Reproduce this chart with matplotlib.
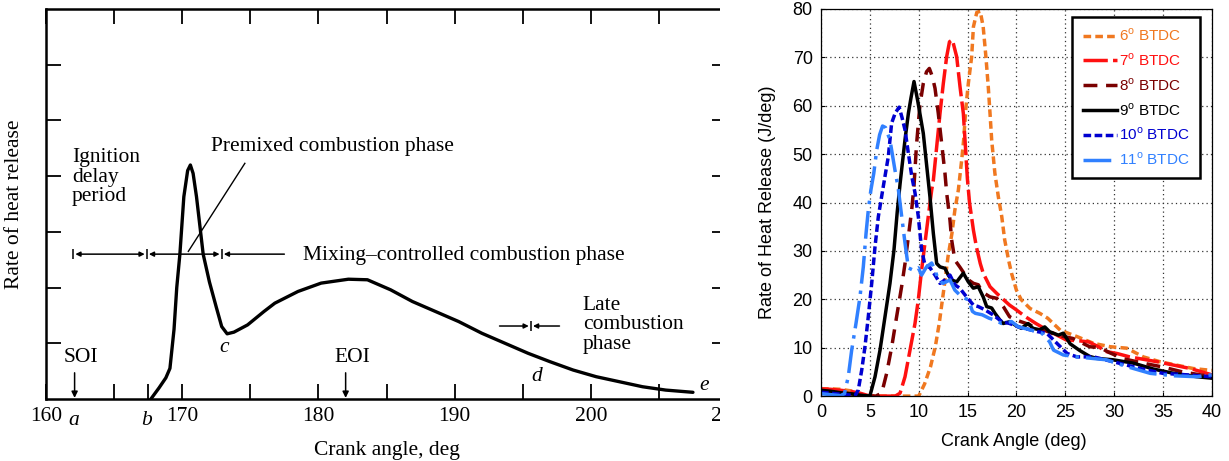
import matplotlib.pyplot as plt
from matplotlib.patches import Rectangle
from matplotlib.ticker import FixedLocator, FuncFormatter

plt.rcParams['font.family'] = 'Liberation Sans'
plt.rcParams['mathtext.fontset'] = 'custom'
plt.rcParams['mathtext.rm'] = 'Liberation Sans'

# ---- left panel: textbook heat release sketch (arbitrary units) ----
hr_angle = [167.7, 168.3, 168.8, 169.1, 169.4, 169.6, 169.83, 170.12, 170.4, 170.6,
            170.8, 171.05, 171.54, 172.0, 172.5, 172.9, 173.3, 173.8, 174.8, 176.0,
            176.8, 178.5, 180.2, 182.2, 183.6, 185.3, 186.9, 188.6, 190.3, 192.0,
            193.7, 195.4, 197.0, 198.7, 200.4, 202.1, 203.8, 205.5, 207.5]
hr_rate = [0.0, 0.2, 0.38, 0.55, 1.25, 2.0, 2.6, 3.63, 4.1, 4.2,
           4.05, 3.63, 2.6, 2.1, 1.65, 1.3, 1.17, 1.2, 1.33, 1.57,
           1.72, 1.93, 2.08, 2.15, 2.14, 1.96, 1.75, 1.57, 1.39, 1.18,
           1.0, 0.82, 0.67, 0.52, 0.40, 0.31, 0.22, 0.16, 0.12]

# phase boundaries (a, b, c), d and injection events
phase_marks = [162.0, 167.4, 172.9]
mix_end = 177.5
late_mark = 195.6
soi_angle = 162.1
eoi_angle = 182.0

# ---- right panel: measured rate of heat release ----
ca_6 = [0, 1, 2, 3, 3.5, 4, 5, 6, 7, 8, 9, 10, 10.6, 11.2, 11.7, 12.1, 12.7, 13.0, 13.4, 13.7,
        14.06, 14.4, 14.6, 14.84, 15.08, 15.42, 15.6, 15.95, 16.3, 16.6, 16.88, 17.12, 17.3, 17.47,
        17.8, 18.15, 18.5, 18.8, 19.2, 19.5, 20.0, 20.5, 21.4, 22.4, 23.2, 24.5, 26.2, 27.9, 29.6,
        31.3, 33.0, 34.7, 36.4, 38.1, 40]
hr_6 = [1.5, 1.5, 1.4, 1.1, 0.8, 0.4, 0, 0, 0, 0, 0, 0, 2.5, 6.0, 10.2, 15.0, 24.0, 28.8, 33.6, 38.4,
        42.6, 48.8, 52.9, 59.8, 64.6, 70.1, 76.3, 79.3, 79.5, 76.3, 70.1, 63.9, 58.4, 52.9,
        46.0, 41.2, 37.1, 32.3, 28.1, 25.4, 21.9, 19.9, 18.1, 17.1, 16.1, 13.6, 12.3, 10.9, 10.2,
        9.9, 8.1, 7.1, 6.4, 5.7, 5.3]

ca_7 = [0, 1, 2, 3, 4, 4.5, 5, 6, 7, 7.6, 8.09, 8.6, 9.11, 9.62, 9.96, 10.3, 10.64, 10.98, 11.33, 11.5,
        11.84, 12.18, 12.52, 12.86, 13.15, 13.45, 13.89, 14.23, 14.57, 14.74, 14.98, 15.2, 15.6, 15.9,
        16.3, 16.6, 17.3, 18.0, 18.7, 19.3, 19.8, 21.0, 22.0, 23.1, 25.1, 26.5, 27.4, 28.4, 29.2, 30.3,
        31.6, 34.4, 36.1, 37.8, 40]
hr_7 = [1.5, 1.4, 1.2, 1.0, 0.6, 0.3, 0, 0, 0, 0, 0.6, 4.0, 9.5, 15.0, 19.9, 26.1, 31.6, 37.1, 42.6, 44.6,
        51.5, 58.4, 64.6, 70.1, 73.2, 73.6, 70.1, 63.9, 58.4, 52.9, 45.0, 40.0, 34.3, 30.9,
        27.4, 25.4, 22.6, 21.2, 19.9, 18.8, 18.1, 16.3, 15.0, 13.7, 11.6, 11.4, 11.2, 10.2, 9.2, 8.8,
        8.1, 7.1, 6.4, 5.7, 4.4]

ca_8 = [0, 1, 2, 3, 4, 5, 5.6, 6.21, 6.72, 7.24, 7.74, 8.25, 8.6, 8.94, 9.28, 9.52, 9.78, 10.12, 10.47, 10.8,
        11.09, 11.4, 11.67, 12.0, 12.35, 12.69, 12.86, 13.2, 13.37, 13.7, 14.2, 14.6, 15.1, 15.6, 16.1,
        16.5, 17.3, 18.0, 18.66, 19.3, 20.0, 21.0, 22.0, 23.0, 24.0, 25.8, 27.5, 28.6, 29.5, 31.0,
        33.0, 35.0, 37.0, 40]
hr_8 = [1.0, 0.9, 0.7, 0.5, 0.2, 0, 0, 0.6, 4.7, 10.2, 16.4, 22.6, 27.4, 32.9, 38.4, 43.5, 52.0, 60.0, 64.6, 67.0,
        67.7, 66.0, 63.6, 58.5, 52.2, 46.0, 42.0, 36.4, 32.3, 28.1, 26.7, 25.5, 24.0, 23.3, 23.0,
        21.5, 20.5, 20.2, 18.5, 16.4, 15.7, 15.0, 14.2, 13.5, 12.7, 11.9, 10.2, 10.0, 9.0, 7.7,
        6.8, 6.0, 5.0, 4.0]

ca_9 = [0, 1, 2, 3, 4, 5.0, 5.53, 6.04, 6.55, 7.06, 7.47, 7.8, 8.1, 8.6, 8.95, 9.2, 9.52, 9.9, 10.47, 11.15,
        11.5, 11.84, 12.18, 12.69, 13.03, 13.37, 13.89, 14.57, 15.08, 15.59, 16.1, 16.6, 16.96, 17.47,
        17.81, 18.32, 18.66, 19.34, 19.85, 20.5, 21.2, 21.7, 22.4, 22.9, 23.4, 24.3, 24.8, 25.5, 26.5,
        27.5, 28.2, 29.9, 32.0, 34.0, 36.1, 38.5, 40]
hr_9 = [1.2, 1.0, 0.7, 0.5, 0.2, 0, 4.0, 9.5, 16.4, 23.3, 30.2, 38.0, 44.0, 53.0, 58.5, 61.5, 65.0, 61.0, 54.3, 41.2,
        33.6, 27.4, 26.7, 26.4, 25.0, 24.0, 23.6, 25.4, 23.6, 22.3, 22.6, 20.5, 18.5, 18.2,
        17.1, 15.7, 15.0, 15.4, 14.7, 14.0, 15.0, 14.0, 13.7, 14.3, 13.3, 12.6, 13.0, 10.8, 9.4,
        8.2, 7.8, 7.5, 6.8, 5.6, 4.7, 4.0, 3.7]

ca_10 = [0, 1, 2, 3, 3.5, 3.82, 4.17, 4.5, 4.84, 5.19, 5.53, 5.87, 6.35, 6.89, 7.23, 7.6, 8.0, 8.3, 8.6, 8.94,
         9.3, 9.62, 9.96, 10.3, 10.64, 11.16, 11.67, 12.18, 12.69, 13.2, 13.7, 14.2, 14.9, 15.6, 16.1,
         16.8, 17.6, 18.5, 19.3, 20.2, 21.4, 22.2, 23.1, 23.8, 25.2, 26.2, 27.9, 29.9, 32.7, 35.0, 37.4, 40]
hr_10 = [0.8, 0.6, 0.4, 0.2, 0.1, 1.3, 5.4, 10.2, 16.4, 23.3, 30.9, 37.1, 43.0, 49.5, 56.4, 58.5, 59.7, 57.5, 55.0, 50.2,
         45.3, 42.0, 37.1, 30.2, 27.1, 26.5, 25.0, 23.3, 24.0, 25.0, 23.0, 22.3, 20.5, 18.8, 18.5,
         17.8, 16.8, 15.4, 15.0, 14.3, 13.7, 13.3, 13.0, 11.6, 8.8, 8.1, 8.1, 7.1, 5.7, 4.7, 4.4, 4.0]

ca_11 = [0, 1, 2, 2.4, 2.79, 3.14, 3.58, 3.99, 4.33, 4.61, 4.84, 5.1, 5.4, 5.7, 6.0, 6.3, 6.6, 7.06, 7.57, 7.9,
         8.26, 8.6, 8.94, 9.45, 9.96, 10.3, 10.8, 11.33, 11.67, 12.0, 12.5, 13.2, 13.7, 14.2, 14.74,
         15.1, 15.5, 15.8, 16.5, 17.2, 17.8, 18.5, 19.5, 20.2, 21.4, 22.6, 23.4, 23.8, 24.8, 26.2,
         29.2, 31.3, 33.7, 36.1, 38.5, 40]
hr_11 = [0.5, 0.3, 0.1, 0.5, 4.0, 9.5, 15.0, 20.5, 26.7, 33.6, 38.4, 42.5, 46.0, 50.8, 54.0, 55.8, 55.5, 52.9, 46.7, 43.0,
         37.1, 31.6, 26.5, 26.0, 26.5, 25.0, 26.7, 27.5, 26.0, 24.0, 23.3, 24.0, 21.9, 20.9, 20.2,
         19.9, 17.5, 17.1, 16.8, 16.1, 15.7, 15.0, 15.4, 14.3, 13.7, 13.0, 11.2, 9.5, 8.5, 8.1,
         7.5, 6.1, 4.7, 4.2, 4.0, 4.4]

timing_labels = ['6$^{\\mathrm{o}}$ BTDC', '7$^{\\mathrm{o}}$ BTDC', '8$^{\\mathrm{o}}$ BTDC',
                 '9$^{\\mathrm{o}}$ BTDC', '10$^{\\mathrm{o}}$ BTDC', '11$^{\\mathrm{o}}$ BTDC']

fig = plt.figure(figsize=(12.29, 4.61), dpi=100)

# ================= left panel =================
serif = 'Liberation Serif'
fs = 15.5
ax = fig.add_axes([46 / 1229, 1 - 399 / 461, 681 / 1229, 390 / 461])
ax.plot(hr_angle, hr_rate, color='k', lw=2.4, solid_capstyle='round')
ax.set_xlim(160, 210)
ax.set_ylim(0, 7)
ax.xaxis.set_major_locator(FixedLocator(list(range(160, 211, 5))))
ax.xaxis.set_major_formatter(FuncFormatter(lambda v, p: '%d' % v if v % 10 == 0 else ''))
ax.set_yticks([1, 2, 3, 4, 5, 6])
ax.set_yticklabels([])
ax.tick_params(direction='in', length=11, width=1.3, top=True, right=True,
               labelsize=fs, labelfontfamily=serif, pad=6)
for s in ax.spines.values():
    s.set_linewidth(1.8)
ax.set_xlabel('Crank angle, deg', family=serif, fontsize=fs)
ax.xaxis.set_label_coords(0.5, -0.108)
ax.set_ylabel('Rate of heat release', family=serif, fontsize=fs)
ax.yaxis.set_label_coords(-0.033, 0.5)

# extra tick at b and italic point letters
ax.vlines(phase_marks[1] + 0.1, 0, 0.27, color='k', lw=1.3)
xt = ax.get_xaxis_transform()
ax.text(phase_marks[0], -0.032, 'a', transform=xt, family=serif, style='italic',
        fontsize=fs, ha='center', va='top')
ax.text(phase_marks[1], -0.032, 'b', transform=xt, family=serif, style='italic',
        fontsize=fs, ha='center', va='top')
ax.text(173.1, 0.92, 'c', family=serif, style='italic', fontsize=fs, ha='center', va='center')
ax.text(196.0, 0.40, 'd', family=serif, style='italic', fontsize=fs, ha='center', va='center')
ax.text(208.3, 0.25, 'e', family=serif, style='italic', fontsize=fs, ha='center', va='center')

# injection arrows
arr = dict(arrowstyle='-|>', color='k', lw=1.1, mutation_scale=9, shrinkA=0, shrinkB=0)
for ang, lab in [(soi_angle, 'SOI'), (eoi_angle, 'EOI')]:
    ax.annotate('', xy=(ang, 0.02), xytext=(ang, 0.47), arrowprops=arr)
    ax.text(ang + 0.5, 0.74, lab, family=serif, fontsize=fs, ha='center', va='center')

# phase interval markers
mark_y = 2.6
dbl = dict(arrowstyle='<|-|>', color='k', lw=1.1, mutation_scale=7, shrinkA=1.5, shrinkB=1.5)
for x0, x1 in zip(phase_marks[:-1], phase_marks[1:]):
    ax.annotate('', xy=(x1, mark_y), xytext=(x0, mark_y), arrowprops=dbl)
ax.annotate('', xy=(mix_end, mark_y), xytext=(phase_marks[2], mark_y),
            arrowprops=dict(arrowstyle='<|-', color='k', lw=1.1, mutation_scale=7,
                            shrinkA=1.5, shrinkB=0))
ax.vlines(phase_marks, mark_y - 0.09, mark_y + 0.09, color='k', lw=1.1)

late_y = 1.31
one = dict(arrowstyle='-|>', color='k', lw=1.1, mutation_scale=7, shrinkA=0, shrinkB=1.5)
ax.annotate('', xy=(late_mark, late_y), xytext=(193.3, late_y), arrowprops=one)
ax.annotate('', xy=(late_mark, late_y), xytext=(197.7, late_y), arrowprops=one)
ax.vlines(late_mark, late_y - 0.09, late_y + 0.09, color='k', lw=1.1)

# premixed leader line
ax.plot([174.6, 170.45], [4.23, 2.65], color='k', lw=1.0)

ax.text(161.9, 3.98, 'Ignition\ndelay\nperiod', family=serif, fontsize=fs,
        ha='left', va='center', linespacing=1.05)
ax.text(172.15, 4.53, 'Premixed combustion phase', family=serif, fontsize=fs,
        ha='left', va='center')
ax.text(178.9, 2.57, 'Mixing\u2013controlled combustion phase', family=serif, fontsize=fs,
        ha='left', va='center')
ax.text(199.4, 1.33, 'Late\ncombustion\nphase', family=serif, fontsize=fs,
        ha='left', va='center', linespacing=1.05)

# the source picture is cropped just left of x = 210
fig.add_artist(Rectangle((720 / 1229, 0), 30 / 1229, 1, transform=fig.transFigure,
                         facecolor='white', edgecolor='none', zorder=5))

# ================= right panel =================
ax2 = fig.add_axes([821 / 1229, 1 - 396.1 / 461, 390.8 / 1229, 387.2 / 461])
series = [
    (ca_6, hr_6, '#f07820', (0, (2.2, 1.2))),
    (ca_7, hr_7, '#ff1010', (0, (7, 1.5))),
    (ca_8, hr_8, '#7a0000', (0, (4, 2.5))),
    (ca_9, hr_9, '#000000', '-'),
    (ca_10, hr_10, '#0000d0', (0, (2.2, 1.0))),
    (ca_11, hr_11, '#3080ff', (0, (8, 2, 1, 2))),
]
for (x, y, c, ls), lab in zip(series, timing_labels):
    ax2.plot(x, y, color=c, ls=ls, lw=2.5, label=lab)

ax2.set_xlim(0, 40)
ax2.set_ylim(0, 80)
ax2.set_xticks(list(range(0, 41, 5)))
ax2.set_yticks(list(range(0, 81, 10)))
ax2.grid(True, ls=(0, (1, 2.5)), color='0.2', lw=0.9)
ax2.tick_params(direction='in', length=3, labelsize=13, pad=6)
for s in ax2.spines.values():
    s.set_linewidth(0.9)
ax2.set_xlabel('Crank Angle (deg)', fontsize=13)
ax2.xaxis.set_label_coords(0.494, -0.095)
ax2.set_ylabel('Rate of Heat Release (J/deg)', fontsize=13)
ax2.yaxis.set_label_coords(-0.115, 0.5)

leg = ax2.legend(loc='upper right', bbox_to_anchor=(0.970, 0.980), borderaxespad=0,
                 fontsize=11, fancybox=False, edgecolor='k', framealpha=1,
                 labelcolor='linecolor', handlelength=2.2, handletextpad=0.15,
                 labelspacing=0.53, borderpad=0.69)
leg.get_frame().set_linewidth(1.8)

fig.savefig('out.png', dpi=100)
